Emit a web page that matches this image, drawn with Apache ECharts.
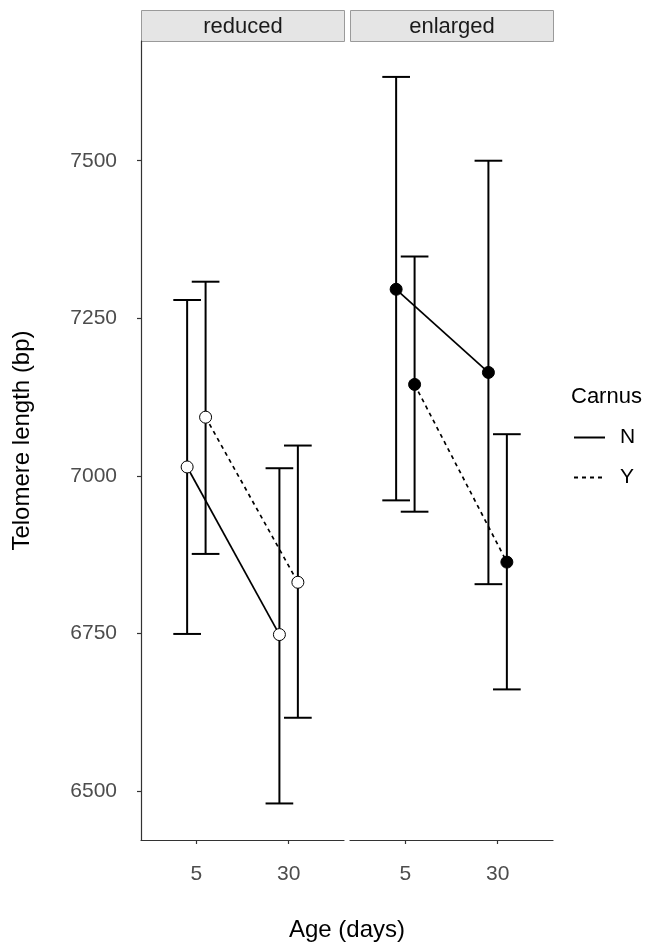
<!DOCTYPE html>
<html>
<head>
<meta charset="utf-8">
<title>Telomere length by age</title>
<script src="https://cdn.jsdelivr.net/npm/echarts@6/dist/echarts.min.js"></script>
<style>
  html, body { margin: 0; padding: 0; background: #fff; }
  #chart { width: 646px; height: 942px; }
</style>
</head>
<body>
<div id="chart"></div>
<script>
// ---- data ----
var ages = ['5', '30'];
var panels = ['reduced', 'enlarged'];
var carnusLevels = ['N', 'Y'];
var yTicks = [6500, 6750, 7000, 7250, 7500];

// reduced brood
var reducedN = [7014, 6748];
var reducedNLow = [6749, 6480];
var reducedNHigh = [7279, 7012];
var reducedY = [7093, 6831];
var reducedYLow = [6876, 6616];
var reducedYHigh = [7308, 7048];

// enlarged brood
var enlargedN = [7296, 7164];
var enlargedNLow = [6961, 6828];
var enlargedNHigh = [7633, 7500];
var enlargedY = [7145, 6863];
var enlargedYLow = [6943, 6661];
var enlargedYHigh = [7348, 7066];

var FONT = 'Liberation Sans, Arial, Helvetica, sans-serif';
var dodge = 0.1;     // half of position_dodge width
var capHalf = 0.15;  // half error bar width
var gridLeft = [141, 350];
var panelW = 203;

var groups = [
  { means: [reducedN, reducedY], low: [reducedNLow, reducedYLow], high: [reducedNHigh, reducedYHigh], fill: '#ffffff' },
  { means: [enlargedN, enlargedY], low: [enlargedNLow, enlargedYLow], high: [enlargedNHigh, enlargedYHigh], fill: '#000000' }
];

function xPos(ageIdx, lvl) {
  return ageIdx + 1 + (lvl === 0 ? -dodge : dodge);
}

function renderErrorBar(params, api) {
  var x = api.value(0);
  var lo = api.coord([x, api.value(1)]);
  var hi = api.coord([x, api.value(2)]);
  var l = api.coord([x - capHalf, api.value(1)])[0];
  var r = api.coord([x + capHalf, api.value(1)])[0];
  var st = { stroke: '#000', lineWidth: 2 };
  return {
    type: 'group',
    children: [
      { type: 'line', shape: { x1: lo[0], y1: hi[1], x2: lo[0], y2: lo[1] }, style: st },
      { type: 'line', shape: { x1: l, y1: hi[1], x2: r, y2: hi[1] }, style: st },
      { type: 'line', shape: { x1: l, y1: lo[1], x2: r, y2: lo[1] }, style: st }
    ]
  };
}

var dashType = [4, 4];

var series = [
  // legend-only entries (just the line key, no point)
  { name: 'N', type: 'line', data: [], symbol: 'none', xAxisIndex: 0, yAxisIndex: 0,
    lineStyle: { color: '#000', width: 1.7, type: 'solid' }, itemStyle: { color: '#000' } },
  { name: 'Y', type: 'line', data: [], symbol: 'none', xAxisIndex: 0, yAxisIndex: 0,
    lineStyle: { color: '#000', width: 1.7, type: dashType }, itemStyle: { color: '#000' } }
];

groups.forEach(function (g, p) {
  var bars = [];
  carnusLevels.forEach(function (lvl, k) {
    ages.forEach(function (a, i) {
      bars.push([xPos(i, k), g.low[k][i], g.high[k][i]]);
    });
  });
  series.push({
    type: 'custom',
    name: panels[p] + ' errorbars',
    xAxisIndex: p, yAxisIndex: p,
    renderItem: renderErrorBar,
    encode: { x: 0, y: [1, 2] },
    data: bars,
    z: 1,
    silent: true
  });
  carnusLevels.forEach(function (lvl, k) {
    series.push({
      name: panels[p] + ' ' + lvl,
      type: 'line',
      xAxisIndex: p, yAxisIndex: p,
      data: ages.map(function (a, i) { return [xPos(i, k), g.means[k][i]]; }),
      symbol: 'circle',
      symbolSize: 12,
      showAllSymbol: true,
      lineStyle: { color: '#000', width: 1.7, type: k === 0 ? 'solid' : dashType },
      itemStyle: { color: g.fill, borderColor: '#000', borderWidth: 1 },
      z: 3,
      silent: true
    });
  });
});

function xAxisFor(i) {
  return {
    type: 'value',
    gridIndex: i,
    min: 0.4,
    max: 2.6,
    splitLine: { show: false },
    axisLine: { show: true, onZero: false, lineStyle: { color: '#333', width: 1.2 } },
    axisTick: { show: true, customValues: [1, 2], length: 4, lineStyle: { color: '#333', width: 1.2 } },
    axisLabel: {
      customValues: [1, 2],
      margin: 24,
      color: '#4d4d4d',
      fontSize: 21,
      fontFamily: FONT,
      formatter: function (v) { return ages[Math.round(v) - 1]; }
    }
  };
}

function yAxisFor(i) {
  var ax = {
    type: 'value',
    gridIndex: i,
    min: 6422,
    max: 7690,
    splitLine: { show: false },
    axisLine: { show: i === 0, onZero: false, lineStyle: { color: '#333', width: 1.2 } },
    axisTick: { show: i === 0, customValues: yTicks, length: 4, lineStyle: { color: '#333', width: 1.2 } },
    axisLabel: {
      show: i === 0,
      customValues: yTicks,
      margin: 24,
      color: '#4d4d4d',
      fontSize: 21,
      fontFamily: FONT,
      formatter: function (v) { return String(v); }
    }
  };
  if (i === 0) {
    ax.name = 'Telomere length (bp)';
    ax.nameLocation = 'middle';
    ax.nameGap = 107;
    ax.nameTextStyle = { fontSize: 24, color: '#000', fontFamily: FONT };
  }
  return ax;
}

var chart = echarts.init(document.getElementById('chart'), null, { renderer: 'canvas' });

chart.setOption({
  backgroundColor: '#fff',
  animation: false,
  textStyle: { fontFamily: FONT },
  title: [
    { text: 'Age (days)', left: 347, top: 918, textAlign: 'center', padding: 0,
      textStyle: { fontSize: 24, fontWeight: 'normal', color: '#000', fontFamily: FONT } },
    { text: 'Carnus', left: 571, top: 386, padding: 0,
      textStyle: { fontSize: 22, fontWeight: 'normal', color: '#000', fontFamily: FONT } }
  ],
  legend: {
    data: carnusLevels,
    orient: 'vertical',
    left: 573,
    top: 427,
    padding: 0,
    itemWidth: 31,
    itemHeight: 14,
    itemGap: 19,
    selectedMode: false,
    itemStyle: { opacity: 0 },
    lineStyle: { opacity: 1 },
    textStyle: { fontSize: 21, lineHeight: 20, color: '#000', fontFamily: FONT, padding: [0, 0, 0, 10] }
  },
  grid: [
    { left: gridLeft[0], top: 41, width: panelW, height: 799 },
    { left: gridLeft[1], top: 41, width: panelW, height: 799 }
  ],
  xAxis: [xAxisFor(0), xAxisFor(1)],
  yAxis: [yAxisFor(0), yAxisFor(1)],
  graphic: panels.map(function (name, i) {
    return {
      type: 'group',
      left: gridLeft[i],
      top: 10,
      children: [
        { type: 'rect', shape: { x: 0, y: 0, width: panelW, height: 31 },
          style: { fill: '#e5e5e5', stroke: '#9a9a9a', lineWidth: 1 } },
        { type: 'text', x: panelW / 2, y: 16,
          style: { text: name, fill: '#1a1a1a', fontSize: 22, fontFamily: FONT,
                   textAlign: 'center', textVerticalAlign: 'middle', align: 'center', verticalAlign: 'middle' } }
      ]
    };
  }),
  series: series
});

window.addEventListener('resize', function () {
  chart.resize();
});
</script>
</body>
</html>
